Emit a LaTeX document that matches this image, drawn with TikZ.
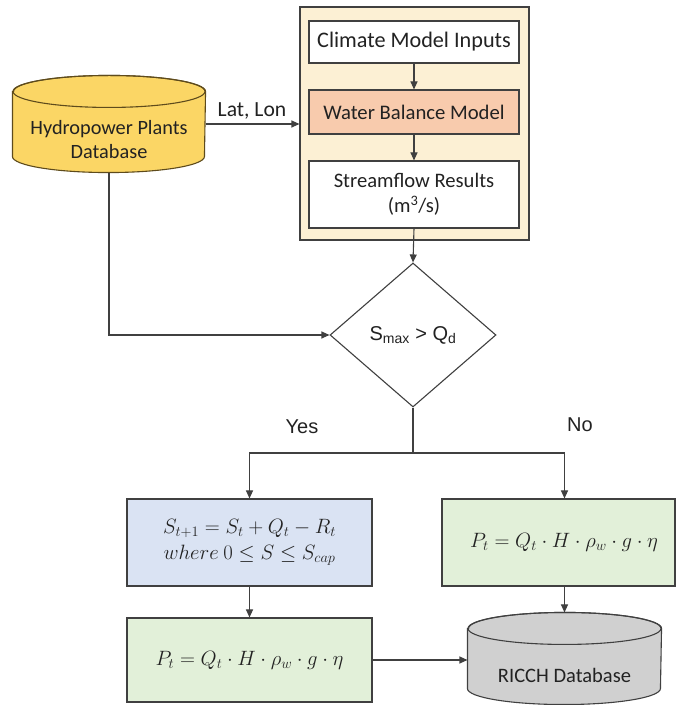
\documentclass[tikz,border=0pt]{standalone}
\usepackage[no-math]{fontspec}
\setmainfont{Carlito}
\newfontfamily\arialf{Liberation Sans}
\usetikzlibrary{arrows.meta,shapes.geometric}
\definecolor{linec}{HTML}{404040}
\definecolor{textc}{HTML}{222222}
\definecolor{outerc}{HTML}{FCF0D4}
\definecolor{waterc}{HTML}{F8CBAD}
\definecolor{hydc}{HTML}{FBD665}
\definecolor{hydline}{HTML}{5E4B1C}
\definecolor{bluec}{HTML}{DAE3F3}
\definecolor{greenc}{HTML}{E2F0D9}
\definecolor{grayc}{HTML}{D0D0D0}
\begin{document}
\begin{tikzpicture}[x=1pt,y=1pt,line width=1.1pt,
  box/.style={draw=linec,rectangle,inner sep=0pt,align=center,text=textc,
    font=\fontsize{20.5}{24}\selectfont},
  arr/.style={draw=linec,-{Triangle[length=8pt,width=7pt]}},
  lbl/.style={text=textc,align=center,font=\fontsize{20.3}{24}\selectfont},
  albl/.style={text=textc,font=\arialf\fontsize{20}{24}\selectfont},
  cylbody/.style={inner sep=0pt,draw=none}]
\useasboundingbox (0,0) rectangle (676,705);
\fill[white] (0,0) rectangle (676,705);

% container
\node[box,fill=outerc,minimum width=229pt,minimum height=233pt] (outer) at (414.5,581.5) {};
\node[box,fill=white,minimum width=210pt,minimum height=42pt,font=\fontsize{22.2}{26}\selectfont] (climate) at (414,663) {Climate Model Inputs};
\node[box,fill=waterc,minimum width=210pt,minimum height=44pt,font=\fontsize{20.7}{24}\selectfont] (water) at (414,593) {Water Balance Model};
\node[box,fill=white,minimum width=210pt,minimum height=67pt,font=\fontsize{20.6}{25}\selectfont] (stream) at (414,510.5) {Streamflow Results\\(m\textsuperscript{3}/s)};
\draw[arr] (climate) -- (water);
\draw[arr] (water) -- (stream);

% hydropower cylinder
\node[cylbody,minimum width=192pt,minimum height=96pt] (hyd) at (109,581) {};
\draw[fill=hydc,draw=hydline] ([yshift=-16pt]hyd.north west) -- ([yshift=16pt]hyd.south west)
  arc[start angle=180,end angle=360,x radius=96pt,y radius=16pt]
  -- ([yshift=-16pt]hyd.north east)
  arc[start angle=0,end angle=180,x radius=96pt,y radius=16pt] -- cycle;
\draw[draw=hydline] ([yshift=-16pt]hyd.north) ellipse[x radius=96pt,y radius=16pt];
\node[lbl] (hydtxt) at (109,565) {Hydropower Plants\\Database};

\draw[arr] (hyd.east) -- (outer.west |- hyd.east);
\node[lbl,font=\fontsize{21.6}{24}\selectfont] (latlon) at (252,594) {Lat, Lon};

% decision
\node[diamond,draw=linec,fill=white,minimum width=166pt,minimum height=144pt,inner sep=0pt,
  text=textc,font=\arialf\fontsize{20}{24}\selectfont] (dia) at (413,370) {S\textsubscript{max} > Q\textsubscript{d}};
\draw[arr] (stream.south) -- (dia.north);
\draw[arr] (hyd.south) |- (dia.west);

% lower boxes
\node[box,fill=bluec,minimum width=245pt,minimum height=87pt,font=\fontsize{20.5}{25.5}\selectfont] (blue) at (249.5,162.5)
  {$S_{t+1} = S_t + Q_t - R_t$\\$where\ 0 \le S \le S_{cap}$};
\node[box,fill=greenc,minimum width=245pt,minimum height=84pt] (gl) at (249.5,45)
  {$P_t = Q_t \cdot H \cdot \rho_w \cdot g \cdot \eta$};
\node[box,fill=greenc,minimum width=233pt,minimum height=87pt] (nobox) at (558.5,162.5)
  {\hspace*{11pt}$P_t = Q_t \cdot H \cdot \rho_w \cdot g \cdot \eta$};

% RICCH cylinder
\node[cylbody,minimum width=193pt,minimum height=91pt] (ricch) at (564.5,46.5) {};
\draw[fill=grayc,draw=linec] ([yshift=-16pt]ricch.north west) -- ([yshift=16pt]ricch.south west)
  arc[start angle=180,end angle=360,x radius=96.5pt,y radius=16pt]
  -- ([yshift=-16pt]ricch.north east)
  arc[start angle=0,end angle=180,x radius=96.5pt,y radius=16pt] -- cycle;
\draw[draw=linec] ([yshift=-16pt]ricch.north) ellipse[x radius=96.5pt,y radius=16pt];
\node[lbl,font=\fontsize{20.5}{24}\selectfont] (ricchtxt) at (564.5,30) {RICCH Database};

% branches
\coordinate (splity) at (0,252);
\draw[draw=linec] (dia.south) -- (dia.south |- splity);
\draw[arr] (dia.south |- splity) -| (blue.north);
\draw[arr] (dia.south |- splity) -| (ricch.north |- nobox.north);
\node[albl] (yes) at (302,278) {Yes};
\node[albl] (no) at (580,280) {No};

\draw[arr] (blue) -- (gl);
\draw[arr] (ricch.north |- nobox.south) -- (ricch.north);
\draw[arr] (gl.east) -- (gl.east -| ricch.west);
\end{tikzpicture}
\end{document}
